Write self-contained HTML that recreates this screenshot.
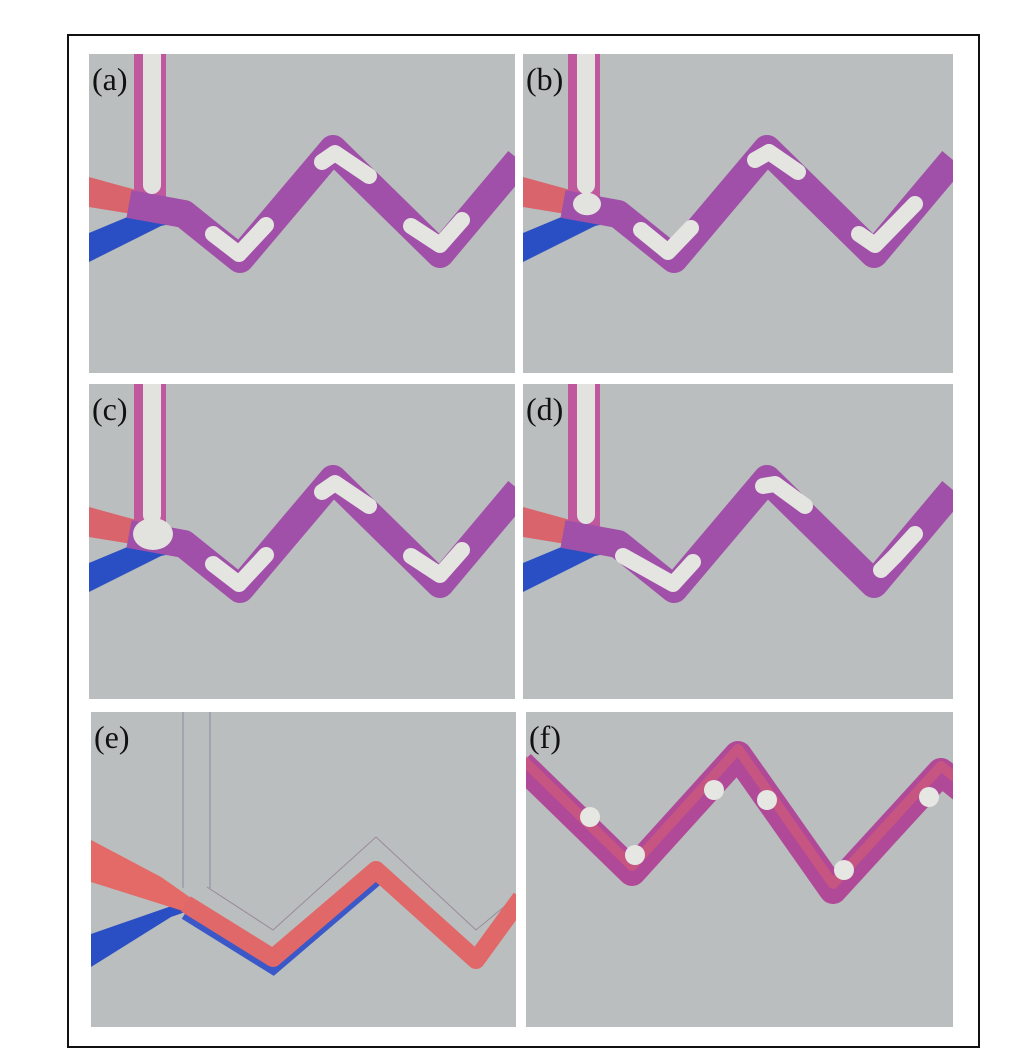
<!DOCTYPE html>
<html><head><meta charset="utf-8"><style>
html,body{margin:0;padding:0;background:#fff;width:1024px;height:1060px;overflow:hidden}
svg{display:block}
</style></head><body>
<svg id="fig" width="1024" height="1060" viewBox="0 0 1024 1060" xmlns="http://www.w3.org/2000/svg">
<rect x="68" y="35" width="911" height="1012" fill="#fff" stroke="#111" stroke-width="2"/>
</svg>
<script>
const NS='http://www.w3.org/2000/svg';
const svg=document.getElementById('fig');
// panel frames
const panelIds=['a','b','c','d','e','f'];
const panelX=[89,523,89,523,91,526];
const panelY=[54,54,384,384,712,712];
const panelW=[426,430,426,430,425,427];
const panelH=[319,319,315,315,315,315];
// zig-zag channel vertices (local coords, panels a-d)
const chanX=[40,95,151,244,351,430];
const chanY=[150,160,205,95,200,106];
// capsules per panel a-d
const capsA=[[[233,108],[246,99],[280,122]],[[124,180],[150,200],[177,171]],[[322,172],[351,191],[373,166]]];
const capsB=[[[232,106],[246,98],[275,118]],[[118,176],[145,198],[168,174]],[[336,180],[352,191],[392,150]]];
const capsC=[[[233,108],[246,99],[280,122]],[[124,180],[150,200],[177,171]],[[322,172],[351,191],[373,166]]];
const capsD=[[[240,102],[252,100],[282,122]],[[100,172],[150,200],[170,178]],[[358,186],[372,172],[392,150]]];
const capsAll=[capsA,capsB,capsC,capsD];
const blobR=[0,14,20,0];
// panel e
const eChanX=[95,182,285,385,430];
const eChanY=[192,246,158,248,186];
const eGhostX=[116,182,285,385,426];
const eGhostY=[175,218,125,218,184];
// panel f
const fChanX=[-5,106,212,307,415,440];
const fChanY=[52,160,43,178,60,80];
const fDropX=[64,109,188,241,318,403];
const fDropY=[105,143,78,88,158,85];

function el(tag,attrs,parent){const e=document.createElementNS(NS,tag);for(const k in attrs)e.setAttribute(k,attrs[k]);parent.appendChild(e);return e;}
function pts(xs,ys){return xs.map((x,i)=>x+','+ys[i]).join(' ');}

panelIds.forEach((id,i)=>{
  const g=el('g',{transform:`translate(${panelX[i]},${panelY[i]})`},svg);
  
  
  const cp=el('clipPath',{id:'cp'+i},g);
  el('rect',{x:0,y:0,width:panelW[i],height:panelH[i]},cp);
  const bg=el('rect',{x:0,y:0,width:panelW[i],height:panelH[i],fill:'#babebe'},g);
  
  
  const c=el('g',{'clip-path':`url(#cp${i})`},g);
  if(i<4){
    const blue=el('polygon',{points:'0,179 0,208 72,172 100,166 96,156 60,154',fill:'#2a4fc4'},c);
    
    
    const red=el('polygon',{points:'0,123 0,153 55,162 62,140',fill:'#d9646c'},c);
    
    
    const vc=el('rect',{x:45,y:-5,width:32,height:160,fill:'#c0589e'},c);
    
    
    const ch=el('polyline',{points:pts(chanX,chanY),fill:'none',stroke:'#a050a8','stroke-width':28,'stroke-linejoin':'round'},c);
    
    
    const vw=el('rect',{x:54,y:-10,width:18,height:150,rx:9,fill:'#e2e2de'},c);
    
    
    if(blobR[i]){
      const b=el('ellipse',{cx:64,cy:150,rx:blobR[i],ry:blobR[i]*0.8,fill:'#e2e2de'},c);
      
      
    }
    capsAll[i].forEach(p=>{
      const cap=el('polyline',{points:p.map(q=>q.join(',')).join(' '),fill:'none',stroke:'#e4e4e0','stroke-width':16,'stroke-linecap':'round','stroke-linejoin':'round'},c);
      
      
    });
  } else if(i===4){
    [92,119].forEach(x=>{
      const l=el('line',{x1:x,y1:0,x2:x,y2:176,stroke:'#8a8aa0','stroke-width':1},c);
      
      
    });
    const gh=el('polyline',{points:pts(eGhostX,eGhostY),fill:'none',stroke:'#9a8a9a','stroke-width':1},c);
    
    
    const blue=el('polygon',{points:'0,222 0,255 80,205 100,198 92,190',fill:'#2a4fc4'},c);
    
    
    const blue2=el('polyline',{points:pts(eChanX.slice(0,3),eChanY.slice(0,3).map(v=>v+8)),fill:'none',stroke:'#3a58c8','stroke-width':16},c);
    
    
    const red=el('polygon',{points:'0,128 0,170 95,200 100,186 70,165',fill:'#e36a66'},c);
    
    
    const ch=el('polyline',{points:pts(eChanX,eChanY),fill:'none',stroke:'#e06868','stroke-width':18,'stroke-linejoin':'round'},c);
    
    
  } else {
    const ch=el('polyline',{points:pts(fChanX,fChanY),fill:'none',stroke:'#b04a98','stroke-width':28,'stroke-linejoin':'round'},c);
    
    
    const ch2=el('polyline',{points:pts(fChanX,fChanY.map(v=>v-6)),fill:'none',stroke:'#d05a78','stroke-width':10,'stroke-linejoin':'round',opacity:0.7},c);
    
    
    fDropX.forEach((x,k)=>{
      const d=el('circle',{cx:x,cy:fDropY[k],r:10,fill:'#e6e6e2'},c);
      
      
    });
  }
  const t=el('text',{x:3,y:36,'font-family':'"Liberation Serif",serif','font-size':32,fill:'#111'},g);
  t.textContent='('+id+')';
  
  
});
</script>
</body></html>
